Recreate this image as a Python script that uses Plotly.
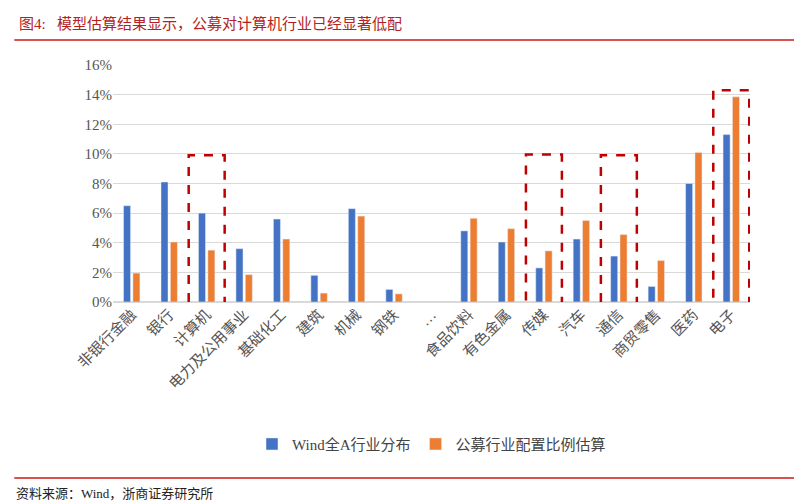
import plotly.graph_objects as go

categories = ['非银行金融', '银行', '计算机', '电力及公用事业', '基础化工', '建筑', '机械', '钢铁', '…',
              '食品饮料', '有色金属', '传媒', '汽车', '通信', '商贸零售', '医药', '电子']
wind_a = [6.5, 8.1, 6.0, 3.6, 5.6, 1.8, 6.3, 0.85, None, 4.8, 4.05, 2.3, 4.25, 3.1, 1.05, 8.0, 11.3]
fund_est = [1.95, 4.05, 3.5, 1.85, 4.25, 0.6, 5.8, 0.55, None, 5.65, 4.95, 3.45, 5.5, 4.55, 2.8, 10.1, 13.85]
# highlighted categories: (index, box top in %)
highlights = [(2, 9.9), (11, 9.95), (13, 9.9), (16, 14.3)]

font = 'Liberation Serif, Times New Roman, Noto Sans CJK SC'

fig = go.Figure()
fig.add_trace(go.Bar(x=list(range(len(categories))), y=wind_a, name='Wind全A行业分布', marker_color='#4472C4'))
fig.add_trace(go.Bar(x=list(range(len(categories))), y=fund_est, name='公募行业配置比例估算', marker_color='#ED7D31'))

for idx, top in highlights:
    fig.add_shape(type='rect', xref='x', yref='y', x0=idx - 0.48, x1=idx + 0.48, y0=-0.25, y1=top,
                  line=dict(color='#C00000', width=2.5, dash='dash'))

# title, rules and source
fig.add_annotation(text='图4:   模型估算结果显示，公募对计算机行业已经显著低配', xref='paper', yref='paper',
                   x=-0.15, y=1.177, xanchor='left', yanchor='middle', showarrow=False,
                   font=dict(size=15, color='#B22222', family=font))
fig.add_shape(type='line', xref='paper', yref='paper', x0=-0.155, x1=1.09, y0=1.105, y1=1.105,
              line=dict(color='#D9534F', width=2))
fig.add_shape(type='line', xref='paper', yref='paper', x0=-0.155, x1=1.09, y0=-0.743, y1=-0.743,
              line=dict(color='#D9534F', width=2))
fig.add_annotation(text='资料来源：Wind，浙商证券研究所', xref='paper', yref='paper', x=-0.155, y=-0.81,
                   xanchor='left', yanchor='middle', showarrow=False, font=dict(size=13, color='#222', family=font))

fig.update_layout(
    width=802, height=501, margin=dict(l=105, r=60, t=57, b=207, autoexpand=False),
    plot_bgcolor='white', paper_bgcolor='white',
    barmode='group', bargap=0.5, bargroupgap=0.25,
    font=dict(family=font, color='#555'),
    legend=dict(orientation='h', x=0.5, xanchor='center', y=-0.6, yanchor='middle',
                font=dict(size=15, color='#444'), itemwidth=30),
    showlegend=True,
)
fig.update_xaxes(tickmode='array', tickvals=list(range(len(categories))), ticktext=categories,
                 tickangle=-45, tickfont=dict(size=15, color='#555'), range=[-0.5, 16.5],
                 showgrid=False, showline=False, ticks='', automargin=False)
fig.update_yaxes(range=[0, 16], dtick=2, ticksuffix='%', tickfont=dict(size=15, color='#555'),
                 gridcolor='#D9D9D9', zeroline=True, zerolinecolor='#D9D9D9', showline=False,
                 automargin=False)

fig.write_html('out.html')
